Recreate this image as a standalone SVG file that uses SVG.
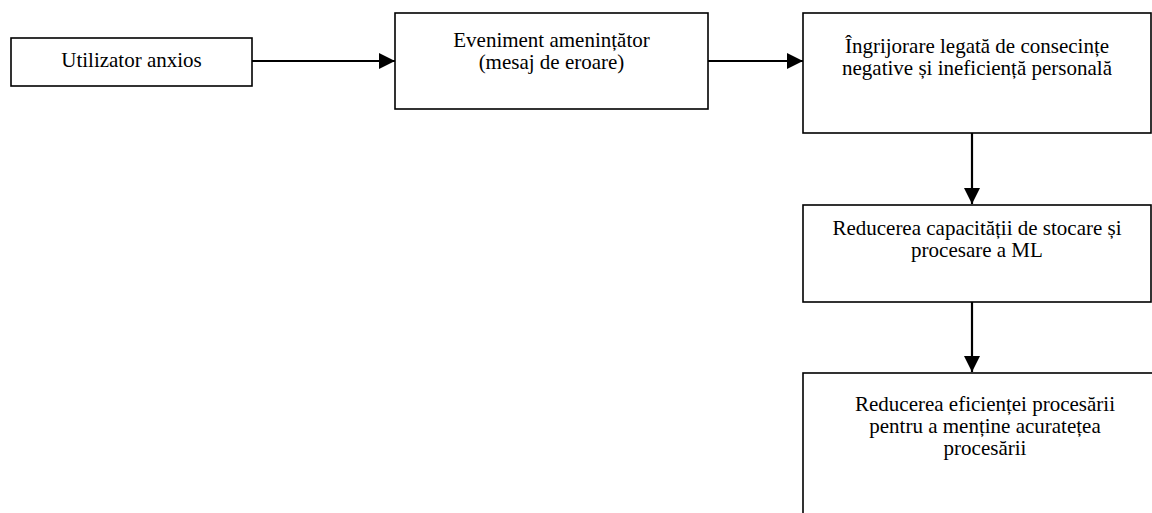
<svg xmlns="http://www.w3.org/2000/svg" width="1152" height="513" viewBox="0 0 1152 513">
<style>
.box{fill:#fff;stroke:#000;stroke-width:1.6}
text{font-family:'Liberation Serif','Times New Roman','DejaVu Serif',serif;font-size:21px;fill:#000;text-anchor:middle}
.c{stroke:#000;stroke-width:2.2;fill:none}
</style>
<defs>
<marker id="ah" viewBox="0 0 16 16" refX="16" refY="8" markerWidth="16" markerHeight="16" markerUnits="userSpaceOnUse" orient="auto">
<path d="M0,0 L16,8 L0,16 Z" fill="#000"/>
</marker>
</defs>
<rect width="1152" height="513" fill="#fff"/>
<g id="n1">
<rect class="box" x="11" y="38" width="241" height="48"/>
<text x="131.5" y="67">Utilizator anxios</text>
</g>
<g id="n2">
<rect class="box" x="395" y="13" width="313" height="96"/>
<text x="551.5" y="47">Eveniment amenințător</text>
<text x="551.5" y="69">(mesaj de eroare)</text>
</g>
<g id="n3">
<rect class="box" x="803" y="13" width="348" height="120"/>
<text x="977" y="53">Îngrijorare legată de consecințe</text>
<text x="977" y="75">negative și ineficiență personală</text>
</g>
<g id="n4">
<rect class="box" x="803" y="205" width="348" height="97"/>
<text x="977" y="235">Reducerea capacității de stocare și</text>
<text x="977" y="257">procesare a ML</text>
</g>
<g id="n5">
<rect class="box" x="803" y="373" width="360" height="160"/>
<text x="985" y="411">Reducerea eficienței procesării</text>
<text x="985" y="433">pentru a menține acuratețea</text>
<text x="985" y="455">procesării</text>
</g>
<g id="connectors">
<line class="c" x1="252" y1="61" x2="395" y2="61" marker-end="url(#ah)"/>
<line class="c" x1="708" y1="61" x2="803" y2="61" marker-end="url(#ah)"/>
<line class="c" x1="972" y1="133" x2="972" y2="204" marker-end="url(#ah)"/>
<line class="c" x1="972" y1="302" x2="972" y2="372" marker-end="url(#ah)"/>
</g>
</svg>
